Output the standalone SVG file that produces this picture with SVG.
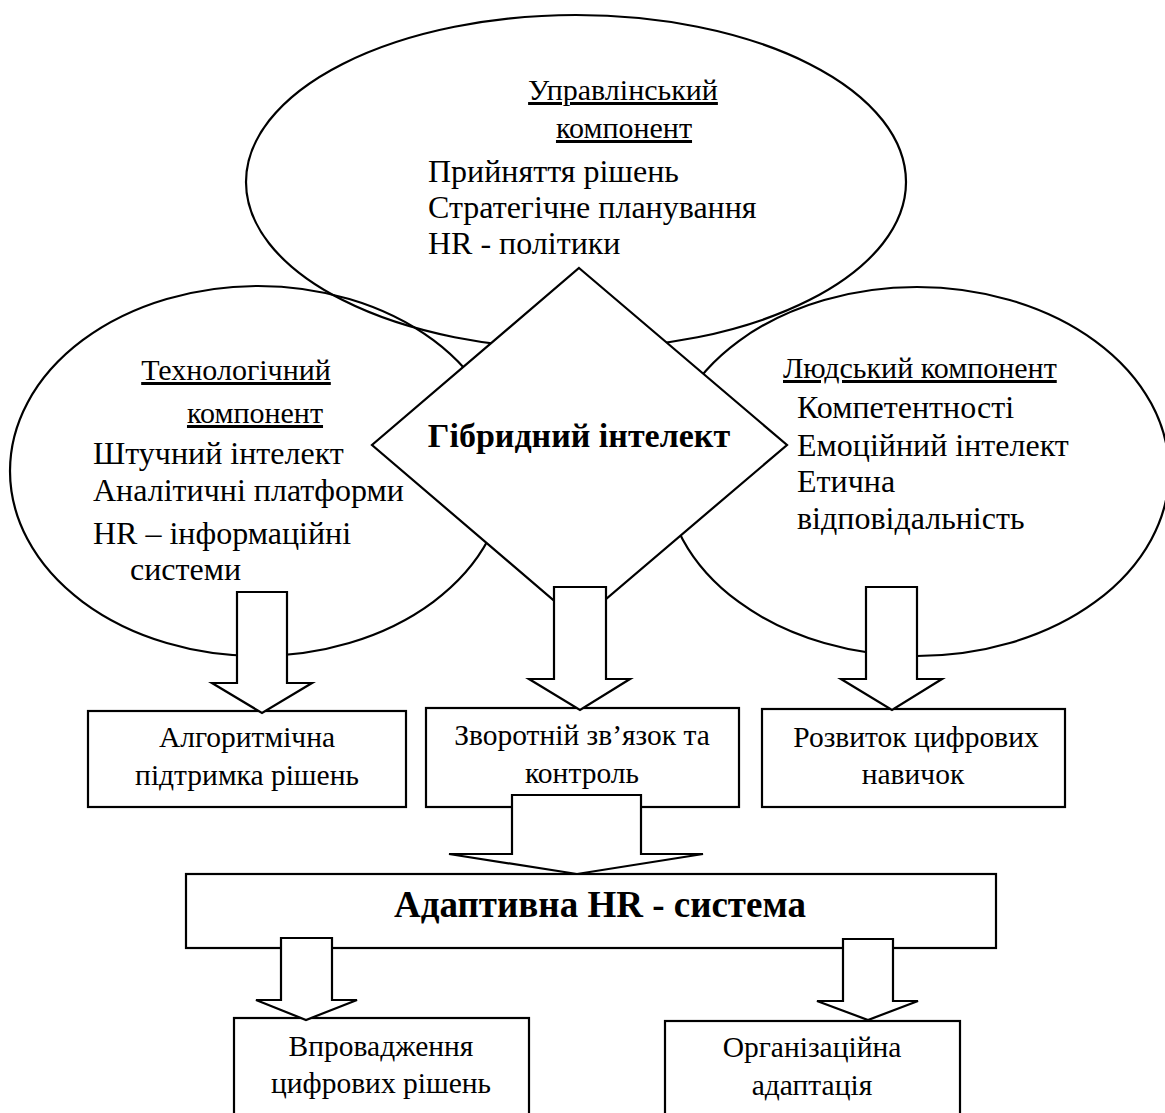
<svg xmlns="http://www.w3.org/2000/svg" width="1165" height="1113" viewBox="0 0 1165 1113" font-family="'Liberation Serif', 'Times New Roman', serif">
<style>
.sh{fill:none;stroke:#000;stroke-width:2.2}
.wf{fill:#fff;stroke:#000;stroke-width:2.2;stroke-linejoin:miter}
.h{font-size:30px;text-decoration:underline}
.i{font-size:32px}
.b{font-size:29.5px}
.bold{font-weight:bold}
.c{text-anchor:middle}
</style>
<rect width="1165" height="1113" fill="#fff"/>
<g id="node-upravlinskyi">
<ellipse class="sh" cx="576" cy="182" rx="330" ry="167"/>
<text class="h c" x="623" y="100">Управлінський</text>
<text class="h c" x="624" y="138">компонент</text>
<text class="i" x="428" y="182">Прийняття рішень</text>
<text class="i" x="428" y="218">Стратегічне планування</text>
<text class="i" x="428" y="254">HR - політики</text>
</g>
<g id="node-tekhnolohichnyi">
<ellipse class="sh" cx="258" cy="471" rx="248" ry="185"/>
<text class="h c" x="236" y="380" font-size="32">Технологічний</text>
<text class="h c" x="255" y="423" font-size="32">компонент</text>
<text class="i" x="93" y="464">Штучний інтелект</text>
<text class="i" x="93" y="501">Аналітичні платформи</text>
<text class="i" x="93" y="544">HR – інформаційні</text>
<text class="i" x="130" y="580">системи</text>
</g>
<g id="node-liudskyi">
<ellipse class="sh" cx="917" cy="471.5" rx="252" ry="184.5"/>
<text class="h" x="783" y="378">Людський компонент</text>
<text class="i" x="797" y="418">Компетентності</text>
<text class="i" x="797" y="456">Емоційний інтелект</text>
<text class="i" x="797" y="492">Етична</text>
<text class="i" x="797" y="529">відповідальність</text>
</g>
<g id="node-hibrydnyi">
<polygon class="wf" points="579,268 787,445 579,622 372,445"/>
<text class="bold c" font-size="34" x="579" y="447">Гібридний інтелект</text>
</g>
<g id="node-alhorytmichna">
<rect class="wf" x="88" y="711" width="318" height="96"/>
<text class="b c" x="247" y="747">Алгоритмічна</text>
<text class="b c" x="247" y="785">підтримка рішень</text>
</g>
<g id="node-zvorotnii">
<rect class="wf" x="426" y="708" width="313" height="99"/>
<text class="b c" x="582" y="745">Зворотній зв’язок та</text>
<text class="b c" x="582" y="783">контроль</text>
</g>
<g id="node-rozvytok">
<rect class="wf" x="762" y="709" width="303" height="98"/>
<text class="b c" x="916" y="747">Розвиток цифрових</text>
<text class="b c" x="913" y="784">навичок</text>
</g>
<g id="node-adaptyvna">
<rect class="wf" x="186" y="874" width="810" height="74"/>
<text class="bold c" font-size="37" x="600" y="917">Адаптивна HR - система</text>
</g>
<g id="node-vprovadzhennia">
<rect class="wf" x="234" y="1018" width="295" height="110"/>
<text class="b c" x="381" y="1056">Впровадження</text>
<text class="b c" x="381" y="1093">цифрових рішень</text>
</g>
<g id="node-orhanizatsiina">
<rect class="wf" x="665" y="1021" width="295" height="110"/>
<text class="b c" x="812" y="1057">Організаційна</text>
<text class="b c" x="812" y="1095">адаптація</text>
</g>
<g id="connectors">
<polygon class="wf" points="237,592 287,592 287,683 312,683 262,713 212,683 237,683"/>
<polygon class="wf" points="554,587 606,587 606,679 630,679 580,710 529,679 554,679"/>
<polygon class="wf" points="866,587 917,587 917,679 942,679 892,710 841,679 866,679"/>
<polygon class="wf" points="512,795 641,795 641,854 703,854 577,874 449,854 512,854"/>
<polygon class="wf" points="281,938 332,938 332,1000 357,1000 306,1020 256,1000 281,1000"/>
<polygon class="wf" points="843,939 893,939 893,1001 918,1001 868,1020 817,1001 843,1001"/>
</g>
</svg>
